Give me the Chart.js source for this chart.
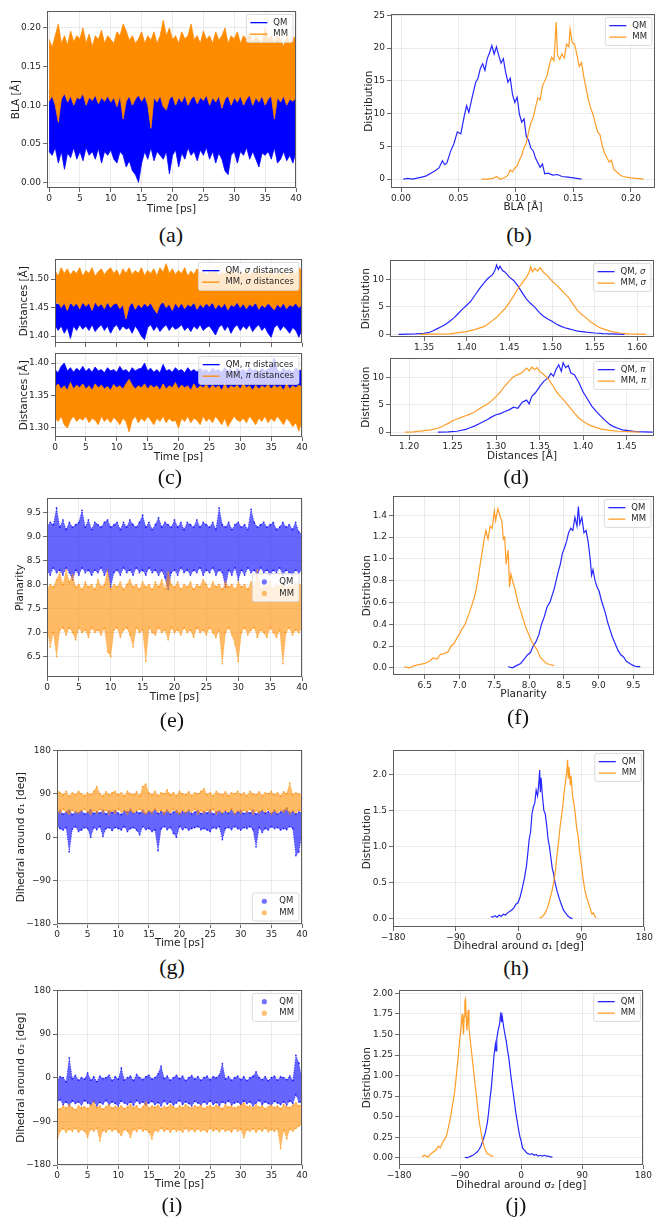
<!DOCTYPE html>
<html>
<head>
<meta charset="utf-8">
<script src="https://cdn.jsdelivr.net/npm/chart.js@4.4.1/dist/chart.umd.min.js"></script>
<style>
  body { margin: 0; background: #fff; width: 666px; height: 1227px; position: relative; overflow: hidden; }
  canvas { position: absolute; }
  .lab { position: absolute; width: 60px; height: 24px; line-height: 24px; text-align: center;
         font-family: "Liberation Serif", serif; font-size: 22px; color: #111; }
</style>
</head>
<body>
<script>
// sampling grid of the trajectories (ps)
const time = Array.from({ length: 81 }, (_, i) => i / 2);

// tick lists
const timeTicks = [0, 5, 10, 15, 20, 25, 30, 35, 40];
const blaTicks = [0, 0.05, 0.10, 0.15, 0.20];
const distBTicks = [0, 5, 10, 15, 20, 25];
const sigTimeTicks = [1.40, 1.45, 1.50];
const piTimeTicks = [1.30, 1.35, 1.40];
const sigDistTicks = [1.35, 1.40, 1.45, 1.50, 1.55, 1.60];
const piDistTicks = [1.20, 1.25, 1.30, 1.35, 1.40, 1.45];
const dTicks = [0, 5, 10];
const planTicks = [6.5, 7.0, 7.5, 8.0, 8.5, 9.0, 9.5];
const fTicks = [0, 0.2, 0.4, 0.6, 0.8, 1.0, 1.2, 1.4];
const angTicks = [-180, -90, 0, 90, 180];
const hTicks = [0, 0.5, 1.0, 1.5, 2.0];
const jTicks = [0, 0.25, 0.5, 0.75, 1.0, 1.25, 1.5, 1.75, 2.0];

// (a) BLA vs time, upper / lower edge of each trace
const aQMhi = [.118,.112,.12,.115,.122,.116,.12,.113,.121,.117,
  .12,.114,.122,.117,.12,.113,.121,.116,.12,.114,
  .121,.117,.12,.114,.122,.116,.124,.118,.12,.115,
  .12,.116,.121,.113,.12,.117,.122,.115,.12,.116,
  .122,.116,.12,.114,.121,.117,.12,.115,.122,.116,
  .12,.114,.121,.117,.12,.113,.122,.116,.12,.115,
  .121,.117,.12,.114,.122,.116,.12,.115,.121,.117,
  .12,.114,.121,.117,.12,.116,.122,.115,.12,.118,.12];
const aQMlo = [.04,.035,.045,.025,.04,.017,.038,.032,.045,.03,
  .04,.028,.045,.035,.04,.03,.044,.025,.04,.035,
  .042,.03,.025,.04,.035,.02,.028,.015,.01,.0,
  .025,.04,.03,.045,.028,.04,.035,.03,.04,.011,
  .035,.042,.02,.038,.03,.045,.035,.04,.028,.042,
  .035,.045,.03,.04,.025,.038,.03,.015,.01,.035,
  .04,.025,.04,.035,.045,.03,.04,.03,.02,.038,
  .035,.04,.03,.045,.025,.03,.04,.028,.035,.025,.04];
const aMMhi = [.185,.175,.19,.205,.18,.19,.178,.196,.182,.19,
  .186,.2,.18,.192,.176,.19,.185,.197,.18,.19,
  .185,.18,.195,.19,.205,.196,.184,.19,.18,.186,
  .195,.18,.19,.184,.195,.18,.19,.21,.19,.2,
  .185,.19,.18,.195,.186,.19,.205,.185,.19,.18,
  .196,.185,.19,.18,.195,.184,.19,.2,.18,.19,
  .186,.195,.18,.19,.185,.194,.18,.19,.185,.18,
  .2,.185,.19,.18,.19,.185,.176,.19,.18,.186,.19];
const aMMlo = [.105,.112,.1,.078,.108,.115,.104,.112,.1,.11,
  .108,.115,.1,.11,.106,.113,.102,.11,.105,.112,
  .104,.11,.098,.112,.082,.105,.112,.1,.108,.113,
  .105,.112,.1,.07,.11,.104,.112,.098,.094,.108,
  .112,.1,.11,.104,.113,.1,.108,.112,.102,.11,
  .106,.113,.1,.11,.104,.112,.096,.108,.112,.1,
  .11,.104,.112,.1,.108,.113,.1,.11,.104,.112,
  .1,.108,.112,.082,.11,.104,.112,.1,.108,.105,.11];

// (b) BLA distributions [x, y]
const bQM = [[.002,0],[.006,.1],[.010,0],[.014,.15],[.018,.3],[.022,.5],[.026,.9],[.030,1.3],[.033,1.7],
  [.036,2.8],[.038,2.2],[.040,2.5],[.043,4.2],[.046,5.4],[.049,7.2],[.052,6.9],[.055,9.6],[.057,11.2],
  [.059,10.2],[.062,12.6],[.065,14.8],[.067,15.4],[.069,16.9],[.071,17.6],[.073,16.6],[.075,18.4],
  [.077,19.3],[.079,20.4],[.081,19.1],[.083,20.2],[.085,18.9],[.087,17.7],[.089,18.4],[.091,16.3],
  [.093,14.8],[.095,15.4],[.097,12.9],[.099,11.7],[.101,12.5],[.103,9.9],[.105,8.7],[.107,9.2],
  [.109,6.5],[.111,5.9],[.113,4.7],[.115,4.3],[.117,3.2],[.119,2.5],[.121,1.8],[.123,2.3],[.125,.8],
  [.128,.9],[.132,.6],[.136,.7],[.140,.4],[.145,.3],[.150,.2],[.157,0]];
const bMM = [[.070,0],[.075,0],[.080,.1],[.083,.4],[.086,0],[.090,.2],[.093,.6],[.095,1.4],[.097,1.1],
  [.099,1.7],[.101,2.0],[.103,2.9],[.105,3.6],[.107,4.8],[.109,5.5],[.111,7.2],[.113,8.6],[.115,9.4],
  [.117,11.0],[.119,12.4],[.121,12.1],[.123,14.2],[.125,15.0],[.127,15.8],[.129,17.4],[.131,18.6],
  [.133,18.1],[.135,24.0],[.136,19.0],[.138,18.3],[.140,19.1],[.142,18.5],[.144,20.6],[.146,20.2],
  [.147,22.9],[.149,20.8],[.151,20.6],[.153,19.0],[.155,17.2],[.157,17.8],[.159,15.6],[.161,13.8],
  [.163,12.1],[.165,10.8],[.167,9.9],[.169,8.5],[.171,7.2],[.173,6.8],[.175,5.1],[.177,4.0],[.179,3.3],
  [.181,2.6],[.183,2.9],[.185,1.5],[.187,1.2],[.190,.7],[.193,.4],[.196,.3],[.200,.2],[.205,.1],[.211,0]];

// (c) sigma / pi distances vs time
const csQMhi = [1.46,1.455,1.465,1.458,1.462,1.456,1.46,1.455,1.463,1.457,
  1.46,1.456,1.47,1.458,1.462,1.455,1.46,1.457,1.463,1.456,
  1.46,1.455,1.462,1.457,1.46,1.456,1.464,1.458,1.46,1.455,
  1.462,1.457,1.46,1.455,1.463,1.458,1.46,1.456,1.462,1.457,
  1.46,1.455,1.463,1.457,1.46,1.456,1.462,1.458,1.46,1.455,
  1.462,1.457,1.46,1.455,1.463,1.458,1.46,1.456,1.462,1.457,
  1.46,1.455,1.462,1.457,1.46,1.456,1.463,1.458,1.46,1.455,
  1.462,1.457,1.46,1.455,1.463,1.458,1.46,1.456,1.462,1.457,1.46];
const csQMlo = [1.42,1.41,1.418,1.405,1.415,1.396,1.418,1.41,1.42,1.412,
  1.418,1.41,1.42,1.408,1.415,1.42,1.41,1.418,1.405,1.415,
  1.42,1.41,1.418,1.412,1.415,1.405,1.418,1.41,1.4,1.394,
  1.415,1.42,1.41,1.418,1.408,1.415,1.42,1.41,1.418,1.412,
  1.415,1.42,1.41,1.416,1.408,1.418,1.412,1.42,1.41,1.415,
  1.418,1.41,1.402,1.415,1.42,1.41,1.418,1.405,1.415,1.42,
  1.41,1.418,1.412,1.42,1.408,1.415,1.42,1.41,1.416,1.405,
  1.398,1.415,1.42,1.41,1.418,1.412,1.405,1.415,1.41,1.398,1.412];
const csMMhi = [1.515,1.505,1.52,1.51,1.518,1.507,1.515,1.51,1.52,1.505,
  1.515,1.51,1.52,1.505,1.513,1.518,1.508,1.515,1.52,1.51,
  1.516,1.505,1.518,1.51,1.52,1.508,1.515,1.51,1.52,1.506,
  1.515,1.51,1.518,1.506,1.52,1.512,1.527,1.51,1.518,1.508,
  1.515,1.51,1.52,1.505,1.514,1.508,1.518,1.51,1.515,1.506,
  1.514,1.51,1.518,1.505,1.512,1.508,1.516,1.51,1.514,1.506,
  1.512,1.508,1.516,1.505,1.514,1.51,1.518,1.506,1.512,1.508,
  1.516,1.505,1.512,1.508,1.515,1.506,1.51,1.514,1.508,1.52,1.515];
const csMMlo = [1.455,1.46,1.45,1.458,1.445,1.46,1.452,1.458,1.448,1.46,
  1.452,1.458,1.445,1.46,1.452,1.457,1.448,1.46,1.45,1.456,
  1.458,1.448,1.455,1.43,1.452,1.46,1.447,1.456,1.45,1.458,
  1.452,1.458,1.448,1.44,1.455,1.46,1.45,1.456,1.445,1.458,
  1.45,1.458,1.448,1.456,1.452,1.46,1.447,1.456,1.45,1.458,
  1.452,1.46,1.448,1.456,1.45,1.458,1.446,1.455,1.452,1.46,
  1.45,1.457,1.448,1.456,1.452,1.46,1.447,1.455,1.45,1.458,
  1.452,1.446,1.456,1.45,1.458,1.448,1.455,1.452,1.458,1.45,1.455];
const cpQMhi = [1.39,1.385,1.395,1.4,1.388,1.393,1.386,1.392,1.388,1.395,
  1.387,1.392,1.386,1.394,1.388,1.39,1.385,1.393,1.388,1.39,
  1.386,1.395,1.388,1.39,1.385,1.393,1.388,1.391,1.392,1.4,
  1.388,1.392,1.386,1.39,1.385,1.398,1.388,1.39,1.386,1.393,
  1.388,1.39,1.385,1.393,1.387,1.39,1.386,1.392,1.388,1.39,
  1.385,1.392,1.388,1.39,1.386,1.393,1.388,1.39,1.385,1.392,
  1.388,1.39,1.386,1.393,1.388,1.39,1.385,1.392,1.388,1.39,
  1.395,1.408,1.39,1.386,1.392,1.388,1.39,1.386,1.393,1.388,1.39];
const cpQMlo = [1.355,1.36,1.352,1.358,1.35,1.356,1.36,1.352,1.357,1.355,
  1.358,1.35,1.356,1.36,1.352,1.357,1.354,1.36,1.35,1.356,
  1.358,1.352,1.357,1.35,1.355,1.36,1.352,1.356,1.345,1.355,
  1.358,1.35,1.356,1.36,1.352,1.357,1.354,1.36,1.35,1.356,
  1.358,1.352,1.357,1.35,1.355,1.36,1.352,1.356,1.358,1.355,
  1.358,1.35,1.356,1.36,1.352,1.357,1.354,1.36,1.35,1.356,
  1.358,1.352,1.357,1.35,1.355,1.36,1.352,1.356,1.358,1.355,
  1.358,1.35,1.356,1.36,1.352,1.357,1.354,1.36,1.35,1.356,1.355];
const cpMMhi = [1.362,1.368,1.36,1.365,1.358,1.37,1.36,1.366,1.362,1.368,
  1.36,1.365,1.358,1.368,1.362,1.366,1.36,1.364,1.358,1.367,
  1.362,1.365,1.36,1.368,1.375,1.366,1.36,1.365,1.362,1.368,
  1.36,1.366,1.362,1.365,1.358,1.368,1.36,1.365,1.362,1.37,
  1.36,1.366,1.362,1.365,1.358,1.368,1.36,1.365,1.362,1.367,
  1.36,1.366,1.362,1.365,1.358,1.368,1.36,1.365,1.362,1.366,
  1.36,1.368,1.362,1.365,1.358,1.366,1.36,1.365,1.362,1.367,
  1.36,1.366,1.362,1.365,1.358,1.368,1.36,1.365,1.362,1.366,1.363];
const cpMMlo = [1.315,1.31,1.318,1.305,1.3,1.312,1.318,1.31,1.315,1.312,
  1.318,1.308,1.315,1.312,1.305,1.318,1.31,1.315,1.308,1.316,
  1.312,1.305,1.315,1.31,1.294,1.312,1.318,1.308,1.315,1.31,
  1.318,1.312,1.305,1.315,1.31,1.318,1.308,1.315,1.31,1.312,
  1.3,1.315,1.31,1.318,1.308,1.315,1.312,1.305,1.318,1.31,
  1.315,1.308,1.318,1.312,1.305,1.315,1.302,1.31,1.318,1.312,
  1.31,1.315,1.308,1.318,1.312,1.305,1.315,1.31,1.318,1.308,
  1.315,1.31,1.318,1.312,1.305,1.315,1.31,1.302,1.308,1.295,1.312];

// (d) distance distributions
const dsQM = [[1.320,0],[1.330,.05],[1.340,.1],[1.350,.2],[1.355,.3],[1.360,.6],[1.365,1.0],[1.370,1.4],
  [1.375,1.8],[1.380,2.4],[1.385,3.0],[1.390,3.8],[1.395,4.6],[1.400,5.3],[1.405,6.1],[1.410,7.2],
  [1.415,8.3],[1.420,9.3],[1.425,10.2],[1.430,10.8],[1.433,11.6],[1.435,12.6],[1.437,11.8],[1.439,12.4],
  [1.442,11.6],[1.445,11.3],[1.450,10.4],[1.455,9.8],[1.460,8.8],[1.465,7.6],[1.470,6.4],[1.475,5.6],
  [1.480,4.9],[1.485,4.0],[1.490,3.3],[1.495,2.8],[1.500,2.4],[1.505,1.9],[1.510,1.5],[1.515,1.2],
  [1.520,1.0],[1.525,.8],[1.530,.6],[1.540,.4],[1.550,.25],[1.560,.15],[1.570,.1],[1.585,0]];
const dsMM = [[1.345,0],[1.360,.05],[1.380,.1],[1.390,.3],[1.400,.5],[1.410,.9],[1.420,1.4],[1.425,1.9],
  [1.430,2.5],[1.435,3.1],[1.440,3.9],[1.445,4.7],[1.450,5.8],[1.455,7.0],[1.460,8.3],[1.465,9.3],
  [1.470,10.4],[1.473,11.2],[1.475,12.3],[1.477,11.4],[1.480,12.0],[1.483,11.5],[1.486,12.1],[1.490,11.3],
  [1.495,10.6],[1.500,9.7],[1.505,9.0],[1.510,8.2],[1.515,7.4],[1.520,6.6],[1.525,5.4],[1.530,4.3],
  [1.535,3.6],[1.540,3.0],[1.545,2.3],[1.550,1.8],[1.555,1.3],[1.560,1.0],[1.570,.5],[1.580,.25],
  [1.590,.1],[1.610,0]];
const dpQM = [[1.233,0],[1.245,.05],[1.255,.15],[1.265,.5],[1.270,.8],[1.275,1.1],[1.280,1.5],[1.285,1.9],
  [1.290,2.3],[1.295,2.8],[1.300,3.2],[1.305,3.4],[1.310,3.8],[1.315,4.1],[1.320,4.6],[1.325,4.4],
  [1.330,5.5],[1.335,5.9],[1.338,5.2],[1.341,6.6],[1.345,7.2],[1.350,8.4],[1.355,9.4],[1.360,10.0],
  [1.363,10.8],[1.366,10.3],[1.369,11.6],[1.372,12.4],[1.375,11.2],[1.377,12.8],[1.380,11.9],[1.383,12.3],
  [1.386,10.9],[1.390,10.6],[1.395,9.2],[1.400,7.4],[1.405,6.1],[1.410,4.8],[1.415,3.8],[1.420,3.0],
  [1.425,2.2],[1.430,1.5],[1.435,1.0],[1.440,.7],[1.445,.4],[1.450,.3],[1.460,.1],[1.470,.05],[1.480,0]];
const dpMM = [[1.195,0],[1.205,.05],[1.215,.2],[1.225,.4],[1.235,.8],[1.240,1.2],[1.245,1.6],[1.250,2.1],
  [1.255,2.4],[1.260,2.7],[1.265,3.0],[1.270,3.3],[1.275,3.7],[1.280,4.2],[1.285,4.7],[1.290,5.2],
  [1.295,5.8],[1.300,6.6],[1.305,7.4],[1.310,8.5],[1.315,9.4],[1.320,10.2],[1.325,10.6],[1.330,11.0],
  [1.335,11.8],[1.338,11.3],[1.341,12.0],[1.344,11.5],[1.347,11.9],[1.350,11.2],[1.355,10.6],[1.360,9.8],
  [1.365,8.6],[1.370,7.3],[1.375,6.4],[1.380,5.5],[1.385,4.5],[1.390,3.5],[1.395,2.6],[1.400,2.0],
  [1.405,1.5],[1.410,1.1],[1.420,.6],[1.430,.3],[1.440,.15],[1.450,.1],[1.465,0]];

// (e) planarity vs time
const eQMhi = [9.2,9.3,9.25,9.6,9.2,9.35,9.15,9.3,9.2,9.25,
  9.3,9.55,9.2,9.35,9.15,9.3,9.25,9.2,9.3,9.35,
  9.2,9.25,9.3,9.15,9.3,9.2,9.35,9.25,9.2,9.3,
  9.45,9.2,9.3,9.15,9.25,9.4,9.2,9.3,9.25,9.2,
  9.35,9.2,9.3,9.15,9.3,9.25,9.2,9.35,9.2,9.3,
  9.25,9.2,9.3,9.15,9.6,9.25,9.2,9.3,9.15,9.25,
  9.3,9.2,9.25,9.15,9.57,9.3,9.2,9.25,9.3,9.2,
  9.25,9.3,9.15,9.2,9.3,9.2,9.25,9.15,9.3,9.1,9.05];
const eQMlo = [8.3,8.2,8.35,8.25,8.3,8.2,8.35,8.25,8.1,8.3,
  8.2,8.35,8.25,8.3,8.2,8.3,8.25,8.35,8.2,8.3,
  7.95,8.25,8.3,8.2,8.35,8.25,8.3,8.2,8.35,8.25,
  8.3,8.2,8.35,8.25,8.3,8.2,8.3,8.15,7.9,8.25,
  8.3,8.2,8.35,8.25,8.3,8.2,8.3,8.25,8.35,8.2,
  8.3,8.25,8.35,8.2,8.3,8.25,7.95,8.3,8.2,8.35,
  8.1,8.3,8.2,8.35,8.25,8.3,8.2,8.35,8.25,8.3,
  8.2,8.3,8.25,8.35,8.2,8.3,8.25,8.2,8.3,8.25,8.3];
const eMMhi = [7.9,8.0,7.95,8.1,8.25,8.0,8.3,8.05,8.2,7.95,
  8.0,7.9,8.05,7.95,8.0,7.9,8.1,7.95,8.0,8.3,
  7.9,8.0,7.95,8.05,7.9,8.0,8.1,7.95,8.0,7.9,
  8.05,7.95,8.0,7.9,8.05,7.95,8.1,7.9,8.25,8.0,
  7.95,8.05,7.9,8.0,7.95,8.05,7.9,8.0,7.95,8.1,
  8.0,7.9,8.05,7.95,8.0,7.9,8.05,7.95,8.0,7.9,
  8.05,7.95,8.0,7.9,8.05,7.95,8.3,7.9,8.0,7.95,
  8.05,7.9,8.0,7.95,8.05,7.9,8.0,7.95,8.05,8.0,8.0];
const eMMlo = [7.1,6.7,7.0,6.5,7.05,7.1,6.95,7.1,7.0,6.85,
  7.1,7.0,7.05,6.9,7.1,7.0,7.05,6.95,7.1,6.6,
  6.5,7.05,7.1,6.9,7.05,7.1,6.95,6.7,7.1,7.0,
  7.05,6.4,7.1,7.0,6.95,7.1,7.0,7.05,6.85,7.1,
  7.0,7.05,6.95,7.1,7.0,7.05,6.9,7.1,7.0,7.05,
  6.95,7.1,7.0,6.9,7.05,6.35,7.0,7.1,6.95,6.75,
  6.4,7.0,7.1,6.95,7.05,7.1,6.9,7.05,7.0,6.9,
  7.1,7.0,6.9,7.05,6.35,7.0,7.1,6.95,7.05,7.0,7.1];

// (f) planarity distributions
const fQM = [[7.70,.01],[7.76,0],[7.82,.02],[7.88,.04],[7.93,.08],[7.98,.12],[8.02,.14],[8.06,.2],
  [8.10,.24],[8.14,.3],[8.18,.4],[8.22,.47],[8.26,.56],[8.30,.6],[8.33,.66],[8.36,.72],[8.39,.8],
  [8.42,.88],[8.45,.95],[8.48,1.05],[8.51,1.1],[8.54,1.16],[8.57,1.24],[8.60,1.28],[8.63,1.26],
  [8.66,1.38],[8.69,1.3],[8.71,1.48],[8.73,1.32],[8.76,1.38],[8.79,1.24],[8.82,1.26],[8.85,1.16],
  [8.88,1.0],[8.90,.85],[8.92,.9],[8.95,.8],[8.98,.74],[9.01,.7],[9.04,.62],[9.07,.56],[9.10,.5],
  [9.13,.42],[9.16,.36],[9.20,.28],[9.24,.22],[9.28,.16],[9.32,.12],[9.36,.1],[9.40,.06],[9.45,.04],
  [9.50,.02],[9.55,.01],[9.60,.01]];
const fMM = [[6.20,.01],[6.28,0],[6.35,.02],[6.42,.03],[6.50,.04],[6.57,.06],[6.62,.09],[6.68,.08],
  [6.72,.12],[6.78,.13],[6.84,.15],[6.88,.2],[6.92,.22],[6.96,.27],[7.00,.31],[7.04,.36],[7.08,.4],
  [7.12,.47],[7.15,.52],[7.18,.58],[7.21,.64],[7.24,.72],[7.27,.83],[7.30,.96],[7.33,1.08],[7.36,1.2],
  [7.38,1.26],[7.41,1.18],[7.44,1.3],[7.47,1.28],[7.50,1.44],[7.52,1.35],[7.55,1.46],[7.58,1.4],
  [7.61,1.34],[7.63,1.18],[7.65,1.2],[7.67,.95],[7.70,1.08],[7.72,.74],[7.74,.86],[7.77,.78],[7.80,.72],
  [7.84,.6],[7.88,.52],[7.92,.44],[7.96,.36],[8.00,.3],[8.04,.24],[8.08,.2],[8.12,.16],[8.16,.1],
  [8.20,.07],[8.25,.04],[8.30,.03],[8.36,.02]];

// (g) dihedral sigma1 vs time
const gQMhi = [50,55,48,52,56,47,53,50,55,48,
  52,57,49,53,50,56,48,54,51,55,
  50,47,55,52,58,49,53,50,56,48,
  54,51,57,49,53,50,56,48,52,55,
  49,53,50,56,48,52,55,49,53,50,
  56,48,52,55,49,53,50,57,48,52,
  55,49,53,50,56,48,52,55,50,53,
  49,56,48,52,55,60,50,53,48,52,50];
const gQMlo = [22,18,15,20,-30,17,22,12,15,20,
  18,0,20,16,22,2,18,20,14,20,
  18,15,22,12,18,20,15,5,22,16,
  18,12,15,-28,18,22,16,20,8,0,
  22,16,20,15,18,20,22,16,18,15,
  12,20,18,22,-5,18,20,16,22,18,
  15,20,18,22,16,-20,20,10,18,15,
  22,18,20,15,18,16,22,18,-38,-30,10];
const gMMhi = [100,92,88,95,85,92,88,95,90,86,
  92,88,95,105,90,86,94,88,92,95,
  88,92,86,95,90,88,94,86,105,110,
  92,88,95,86,92,90,98,88,92,86,
  95,90,88,94,86,92,90,95,100,88,
  92,86,95,90,88,94,86,92,90,95,
  88,92,86,95,90,88,94,86,92,90,
  95,88,92,86,94,90,112,88,92,90,88];
const gMMlo = [55,50,58,52,48,56,52,50,55,58,
  52,48,55,50,58,52,56,48,55,50,
  58,52,55,48,56,50,55,58,52,48,
  55,50,58,52,56,48,55,50,58,52,
  48,56,50,55,52,58,48,55,50,56,
  52,58,48,55,50,56,52,58,48,55,
  50,56,52,58,48,55,50,56,52,58,
  48,55,50,56,52,58,48,55,50,56,52];

// (h) dihedral sigma1 distributions
const hQM = [[-40,.03],[-37,.02],[-34,.04],[-31,.02],[-28,.05],[-25,.03],[-22,.06],[-19,.05],[-16,.08],
  [-13,.1],[-10,.12],[-7,.15],[-4,.2],[-1,.22],[2,.3],[5,.42],[8,.55],[11,.72],[13,.9],[15,1.1],[17,1.2],
  [19,1.45],[21,1.55],[23,1.6],[25,1.78],[27,1.7],[29,1.9],[30,2.06],[31,1.75],[32,1.95],[34,1.7],
  [36,1.5],[38,1.45],[40,1.3],[42,1.1],[44,1.0],[46,.85],[48,.7],[50,.62],[52,.5],[55,.38],[58,.28],
  [61,.2],[64,.12],[67,.08],[70,.04],[74,.01],[77,0]];
const hMM = [[30,.01],[33,.02],[36,.05],[39,.1],[42,.17],[45,.28],[48,.4],[51,.55],[53,.7],[55,.9],
  [57,1.05],[59,1.25],[61,1.4],[63,1.55],[65,1.75],[67,1.9],[69,2.05],[70,2.2],[71,1.95],[72,2.1],
  [74,1.85],[75,1.98],[77,1.7],[79,1.6],[81,1.45],[83,1.25],[85,1.15],[87,.95],[89,.8],[91,.65],
  [93,.5],[95,.38],[97,.3],[99,.25],[101,.18],[103,.12],[105,.06],[107,.08],[109,.03],[111,.01]];

// (i) dihedral sigma2 vs time
const iQMhi = [-5,2,0,-8,41,-2,5,-5,0,-3,
  10,-5,2,-8,3,-2,0,5,-6,2,
  -3,20,-5,0,3,-6,7,0,-4,2,
  5,-3,0,8,24,-2,3,-5,0,5,
  -2,3,-6,0,4,-3,2,-5,0,3,
  -4,2,0,5,29,-3,2,-5,0,3,
  -4,2,-6,0,3,12,0,-4,2,-6,
  0,3,-5,2,0,-4,3,-6,46,30,-5];
const iQMlo = [-52,-45,-55,-50,-58,-48,-53,-50,-56,-47,
  -52,-55,-49,-58,-51,-54,-47,-56,-50,-53,
  -58,-48,-52,-55,-50,-57,-47,-53,-50,-56,
  -52,-49,-55,-51,-58,-48,-54,-50,-56,-52,
  -47,-55,-50,-53,-58,-49,-52,-56,-50,-54,
  -48,-55,-51,-57,-50,-53,-48,-56,-52,-50,
  -55,-48,-53,-50,-58,-52,-47,-55,-50,-53,
  -57,-49,-52,-55,-50,-56,-48,-53,-35,-50,-52];
const iMMhi = [-60,-65,-58,-63,-56,-62,-66,-58,-62,-60,
  -64,-57,-50,-62,-58,-65,-60,-56,-63,-59,
  -62,-58,-64,-60,-55,-62,-58,-65,-60,-50,
  -63,-58,-61,-57,-64,-59,-62,-56,-60,-64,
  -58,-62,-56,-60,-63,-58,-61,-57,-64,-60,
  -58,-62,-57,-60,-64,-56,-61,-58,-63,-60,
  -57,-52,-60,-58,-63,-56,-61,-58,-64,-60,
  -57,-62,-58,-64,-55,-60,-62,-57,-52,-58,-55];
const iMMlo = [-133,-110,-105,-112,-106,-110,-104,-112,-107,-110,
  -123,-106,-110,-104,-130,-108,-112,-105,-110,-106,
  -112,-119,-107,-110,-123,-106,-111,-104,-110,-107,
  -112,-126,-108,-111,-104,-110,-106,-112,-105,-110,
  -107,-112,-104,-110,-106,-111,-105,-110,-107,-112,
  -104,-110,-106,-111,-105,-110,-107,-112,-104,-110,
  -106,-123,-107,-110,-105,-112,-106,-110,-104,-111,
  -107,-110,-105,-146,-108,-126,-106,-110,-104,-100,-95];

// (j) dihedral sigma2 distributions
const jQM = [[-83,.01],[-80,0],[-77,.01],[-74,.02],[-71,.03],[-68,.05],[-65,.07],[-62,.1],[-59,.15],
  [-56,.22],[-53,.3],[-50,.42],[-48,.55],[-46,.72],[-44,.85],[-42,1.05],[-40,1.25],[-38,1.38],[-37,1.3],
  [-36,1.45],[-34,1.55],[-32,1.62],[-30,1.77],[-29,1.65],[-28,1.72],[-26,1.6],[-24,1.5],[-22,1.42],
  [-20,1.3],[-18,1.2],[-16,1.05],[-14,.92],[-12,.8],[-10,.68],[-8,.55],[-6,.45],[-4,.35],[-2,.26],
  [0,.2],[2,.12],[4,.1],[6,.08],[8,.06],[10,.05],[13,.04],[16,.05],[19,.03],[22,.04],[25,.02],[28,.03],
  [31,.02],[34,.03],[37,.02],[40,.02],[43,.01],[46,.01]];
const jMM = [[-146,.01],[-143,.03],[-140,.02],[-137,.01],[-134,.04],[-131,.06],[-128,.08],[-125,.1],
  [-122,.14],[-119,.12],[-116,.18],[-113,.22],[-110,.27],[-107,.38],[-104,.5],[-101,.65],[-98,.8],
  [-95,1.05],[-93,1.2],[-91,1.4],[-89,1.55],[-87,1.75],[-86,1.65],[-85,1.5],[-84,1.72],[-83,1.9],
  [-82,1.93],[-81,1.7],[-80,1.55],[-78,1.8],[-77,1.6],[-76,1.5],[-74,1.35],[-72,1.2],[-70,1.05],
  [-68,.9],[-66,.75],[-64,.6],[-62,.45],[-60,.35],[-58,.25],[-56,.18],[-54,.12],[-52,.08],[-50,.05],
  [-47,.04],[-44,.02],[-41,.02]];

// ---------------------------------------------------------------
const BLUE = 'rgb(0,0,255)';
const ORANGE = 'rgb(255,140,0)';
const GRID = '#e4e4e4';
const FONT = '"DejaVu Sans", sans-serif';
Chart.defaults.font.family = FONT;
Chart.defaults.font.size = 9;
Chart.defaults.color = '#262626';

const rgba = (c, a) => c.replace('rgb(', 'rgba(').replace(')', ',' + a + ')');
const fmt = (v, d) => v.toFixed(d).replace('-', '\u2212');
const overTime = ys => ys.map((y, i) => ({ x: time[i], y }));
const fromPairs = arr => arr.map(([x, y]) => ({ x, y }));

// greek letters in legend labels are set in italic, like mathtext
function runs(text) { return text.split(/([σπ])/).filter(s => s); }
function runFont(r) { return (/[σπ]/.test(r) ? 'italic ' : '') + '8.5px ' + FONT; }
function richWidth(ctx, text) {
  let w = 0;
  for (const r of runs(text)) { ctx.font = runFont(r); w += ctx.measureText(r).width; }
  return w;
}
function drawRich(ctx, text, x, y) {
  for (const r of runs(text)) {
    ctx.font = runFont(r);
    ctx.fillText(r, x, y);
    x += ctx.measureText(r).width;
  }
}

const framePlugin = {
  id: 'frame',
  afterDatasetsDraw(chart) {
    const { ctx, chartArea: a } = chart;
    ctx.save();
    ctx.strokeStyle = '#5c5c5c';
    ctx.lineWidth = 1;
    ctx.strokeRect(Math.round(a.left) + 0.5, Math.round(a.top) + 0.5,
      Math.round(a.right - a.left) - 1, Math.round(a.bottom - a.top) - 1);
    ctx.restore();
  }
};

const boxLegend = {
  id: 'boxLegend',
  afterDraw(chart, args, o) {
    if (!o || !o.items) return;
    const { ctx, chartArea: a } = chart;
    ctx.save();
    const rowH = 11.5;
    const tw = Math.max(...o.items.map(it => richWidth(ctx, it.text)));
    const w = 27 + tw + 5, h = o.items.length * rowH + 5;
    const x = a.right - 3 - w;
    const y = o.loc === 'lower' ? a.bottom - 3 - h
      : o.loc === 'center' ? (a.top + a.bottom - h) / 2 : a.top + 3;
    ctx.fillStyle = 'rgba(255,255,255,0.8)';
    ctx.strokeStyle = '#d2d2d2';
    ctx.lineWidth = 0.8;
    ctx.beginPath();
    ctx.roundRect(x, y, w, h, 2);
    ctx.fill();
    ctx.stroke();
    ctx.textBaseline = 'middle';
    o.items.forEach((it, i) => {
      const cy = y + 2.5 + rowH * (i + 0.5);
      if (o.marker === 'dot') {
        ctx.fillStyle = rgba(it.color, 0.55);
        ctx.beginPath();
        ctx.arc(x + 12, cy, 2.6, 0, Math.PI * 2);
        ctx.fill();
      } else {
        ctx.strokeStyle = rgba(it.color, o.alpha || 1);
        ctx.lineWidth = 1.3;
        ctx.beginPath();
        ctx.moveTo(x + 4, cy);
        ctx.lineTo(x + 21, cy);
        ctx.stroke();
      }
      ctx.fillStyle = '#262626';
      drawRich(ctx, it.text, x + 27, cy);
    });
    ctx.restore();
  }
};

// one trace over time = filled band between its upper and lower edge
function band(color, hi, lo, order, scatter) {
  const line = scatter ? rgba(color, 0.75) : color;
  const common = {
    borderColor: line, borderWidth: scatter ? 0.9 : 0.8, tension: 0,
    borderDash: scatter ? [1, 1.5] : [],
    pointRadius: scatter ? 0.9 : 0, pointBorderWidth: 0,
    pointBackgroundColor: line, order
  };
  return [
    Object.assign({ data: overTime(hi), fill: false }, common),
    Object.assign({ data: overTime(lo), fill: '-1',
      backgroundColor: scatter ? rgba(color, 0.6) : color }, common)
  ];
}
function curve(color, pairs, order) {
  return { data: fromPairs(pairs), borderColor: rgba(color, 0.85), borderWidth: 1.2,
    pointRadius: 0, tension: 0, fill: false, order };
}

function panel(p) {
  const f = p.frame;
  const top = f.t - 6;
  const bottom = p.xTitle ? p.xTitleY + 9 : f.b + 16;
  const W = f.r + 8 - p.col, H = bottom - top;
  const cv = document.createElement('canvas');
  cv.width = W; cv.height = H;
  cv.style.left = p.col + 'px'; cv.style.top = top + 'px';
  cv.style.width = W + 'px'; cv.style.height = H + 'px';
  document.body.appendChild(cv);
  const xh = bottom - f.b;
  const gridOpt = { color: GRID, tickColor: '#444', tickLength: 4, lineWidth: 0.8 };
  new Chart(cv, {
    type: 'line',
    data: { datasets: p.datasets },
    options: {
      responsive: false, animation: false, devicePixelRatio: 1,
      layout: { padding: { top: 6, right: 8, left: 0, bottom: 0 } },
      plugins: { legend: { display: false }, tooltip: { enabled: false }, boxLegend: p.legend },
      scales: {
        x: {
          type: 'linear', min: p.xr[0], max: p.xr[1],
          afterBuildTicks: s => { s.ticks = p.xt.map(v => ({ value: v })); },
          afterFit: s => { s.height = xh; },
          grid: gridOpt, border: { display: false },
          ticks: { display: p.xLabels !== false, padding: 1, maxRotation: 0, autoSkip: false,
            callback: v => fmt(v, p.xd) },
          title: { display: !!p.xTitle, text: p.xTitle, font: { size: 10.5 }, color: '#222',
            padding: { top: 0, bottom: 9 - 6.3 } }
        },
        y: {
          type: 'linear', min: p.yr[0], max: p.yr[1],
          afterBuildTicks: s => { s.ticks = p.yt.map(v => ({ value: v })); },
          afterFit: s => { s.width = f.l - p.col; },
          grid: gridOpt, border: { display: false },
          ticks: { padding: 2, autoSkip: false, callback: v => fmt(v, p.yd) },
          title: { display: true, text: p.yTitle, font: { size: 10.5 }, color: '#222',
            padding: { top: p.yTitleX - p.col - 6.3, bottom: 0 } }
        }
      }
    },
    plugins: [framePlugin, boxLegend]
  });
}

function label(text, x, y) {
  const d = document.createElement('div');
  d.className = 'lab';
  d.textContent = text;
  d.style.left = (x - 30) + 'px';
  d.style.top = (y - 12) + 'px';
  document.body.appendChild(d);
}

const qmmm = [{ text: 'QM', color: BLUE }, { text: 'MM', color: ORANGE }];

// (a)
panel({ col: 0, frame: { l: 47, t: 10, r: 296, b: 188 }, xr: [-0.33, 40], yr: [-0.0073, 0.2215],
  xt: timeTicks, yt: blaTicks, xd: 0, yd: 2, xTitle: 'Time [ps]', xTitleY: 209,
  yTitle: 'BLA [Å]', yTitleX: 16.7,
  datasets: [...band(BLUE, aQMhi, aQMlo, 2), ...band(ORANGE, aMMhi, aMMlo, 1)],
  legend: { items: qmmm, loc: 'upper' } });
// (b)
panel({ col: 333, frame: { l: 391, t: 13, r: 655, b: 188 }, xr: [-0.0087, 0.2209], yr: [-1.36, 25.15],
  xt: blaTicks, yt: distBTicks, xd: 2, yd: 0, xTitle: 'BLA [Å]', xTitleY: 207,
  yTitle: 'Distribution', yTitleX: 369.7,
  datasets: [curve(BLUE, bQM, 1), curve(ORANGE, bMM, 0)],
  legend: { items: qmmm, loc: 'upper', alpha: 0.85 } });
// (c)
panel({ col: 0, frame: { l: 55, t: 258, r: 302, b: 343 }, xr: [0, 40], yr: [1.388, 1.5345],
  xt: timeTicks, yt: sigTimeTicks, xd: 0, yd: 2, xLabels: false,
  yTitle: 'Distances [Å]', yTitleX: 24.3,
  datasets: [...band(BLUE, csQMhi, csQMlo, 2), ...band(ORANGE, csMMhi, csMMlo, 1)],
  legend: { items: [{ text: 'QM, σ distances', color: BLUE }, { text: 'MM, σ distances', color: ORANGE }], loc: 'upper' } });
panel({ col: 0, frame: { l: 55, t: 352, r: 302, b: 437 }, xr: [0, 40], yr: [1.286, 1.415],
  xt: timeTicks, yt: piTimeTicks, xd: 0, yd: 2, xTitle: 'Time [ps]', xTitleY: 457,
  yTitle: 'Distances [Å]', yTitleX: 24.3,
  datasets: [...band(BLUE, cpQMhi, cpQMlo, 2), ...band(ORANGE, cpMMhi, cpMMlo, 1)],
  legend: { items: [{ text: 'QM, π distances', color: BLUE }, { text: 'MM, π distances', color: ORANGE }], loc: 'upper' } });
// (d)
panel({ col: 333, frame: { l: 390, t: 259, r: 654, b: 337 }, xr: [1.310, 1.6196], yr: [-0.48, 13.45],
  xt: sigDistTicks, yt: dTicks, xd: 2, yd: 0,
  yTitle: 'Distribution', yTitleX: 366.7,
  datasets: [curve(BLUE, dsQM, 1), curve(ORANGE, dsMM, 0)],
  legend: { items: [{ text: 'QM, σ', color: BLUE }, { text: 'MM, σ', color: ORANGE }], loc: 'upper', alpha: 0.85 } });
panel({ col: 333, frame: { l: 390, t: 357, r: 654, b: 436 }, xr: [1.178, 1.4815], yr: [-0.73, 13.6],
  xt: piDistTicks, yt: dTicks, xd: 2, yd: 0, xTitle: 'Distances [Å]', xTitleY: 456,
  yTitle: 'Distribution', yTitleX: 366.7,
  datasets: [curve(BLUE, dpQM, 1), curve(ORANGE, dpMM, 0)],
  legend: { items: [{ text: 'QM, π', color: BLUE }, { text: 'MM, π', color: ORANGE }], loc: 'upper', alpha: 0.85 } });
// (e)
panel({ col: 0, frame: { l: 47, t: 497, r: 302, b: 677 }, xr: [0, 40], yr: [6.07, 9.80],
  xt: timeTicks, yt: planTicks, xd: 0, yd: 1, xTitle: 'Time [ps]', xTitleY: 697,
  yTitle: 'Planarity', yTitleX: 20.7,
  datasets: [...band(BLUE, eQMhi, eQMlo, 2, true), ...band(ORANGE, eMMhi, eMMlo, 1, true)],
  legend: { items: qmmm, loc: 'center', marker: 'dot' } });
// (f)
panel({ col: 333, frame: { l: 393, t: 495, r: 654, b: 675 }, xr: [6.043, 9.798], yr: [-0.066, 1.573],
  xt: planTicks, yt: fTicks, xd: 1, yd: 1, xTitle: 'Planarity', xTitleY: 694,
  yTitle: 'Distribution', yTitleX: 367,
  datasets: [curve(BLUE, fQM, 1), curve(ORANGE, fMM, 0)],
  legend: { items: qmmm, loc: 'upper', alpha: 0.85 } });
// (g)
panel({ col: 0, frame: { l: 57, t: 749, r: 302, b: 924 }, xr: [0, 40], yr: [-180, 180],
  xt: timeTicks, yt: angTicks, xd: 0, yd: 0, xTitle: 'Time [ps]', xTitleY: 943,
  yTitle: 'Dihedral around σ₁ [deg]', yTitleX: 21.7,
  datasets: [...band(BLUE, gQMhi, gQMlo, 2, true), ...band(ORANGE, gMMhi, gMMlo, 1, true)],
  legend: { items: qmmm, loc: 'lower', marker: 'dot' } });
// (h)
panel({ col: 333, frame: { l: 393, t: 749, r: 646, b: 927 }, xr: [-180, 180], yr: [-0.116, 2.331],
  xt: angTicks, yt: hTicks, xd: 0, yd: 1, xTitle: 'Dihedral around σ₁ [deg]', xTitleY: 946,
  yTitle: 'Distribution', yTitleX: 367,
  datasets: [curve(BLUE, hQM, 1), curve(ORANGE, hMM, 0)],
  legend: { items: qmmm, loc: 'upper', alpha: 0.85 } });
// (i)
panel({ col: 0, frame: { l: 57, t: 989, r: 302, b: 1165 }, xr: [0, 40], yr: [-180, 180],
  xt: timeTicks, yt: angTicks, xd: 0, yd: 0, xTitle: 'Time [ps]', xTitleY: 1184,
  yTitle: 'Dihedral around σ₂ [deg]', yTitleX: 21.7,
  datasets: [...band(BLUE, iQMhi, iQMlo, 2, true), ...band(ORANGE, iMMhi, iMMlo, 1, true)],
  legend: { items: qmmm, loc: 'upper', marker: 'dot' } });
// (j)
panel({ col: 333, frame: { l: 399, t: 989, r: 645, b: 1165 }, xr: [-180, 180], yr: [-0.088, 2.036],
  xt: angTicks, yt: jTicks, xd: 0, yd: 2, xTitle: 'Dihedral around σ₂ [deg]', xTitleY: 1185,
  yTitle: 'Distribution', yTitleX: 367,
  datasets: [curve(BLUE, jQM, 1), curve(ORANGE, jMM, 0)],
  legend: { items: qmmm, loc: 'upper', alpha: 0.85 } });

label('(a)', 171, 235);
label('(b)', 519, 235);
label('(c)', 170, 477);
label('(d)', 516, 477);
label('(e)', 172, 720);
label('(f)', 518, 717);
label('(g)', 172, 967);
label('(h)', 516, 968);
label('(i)', 172, 1205);
label('(j)', 516, 1205);
</script>
</body>
</html>
